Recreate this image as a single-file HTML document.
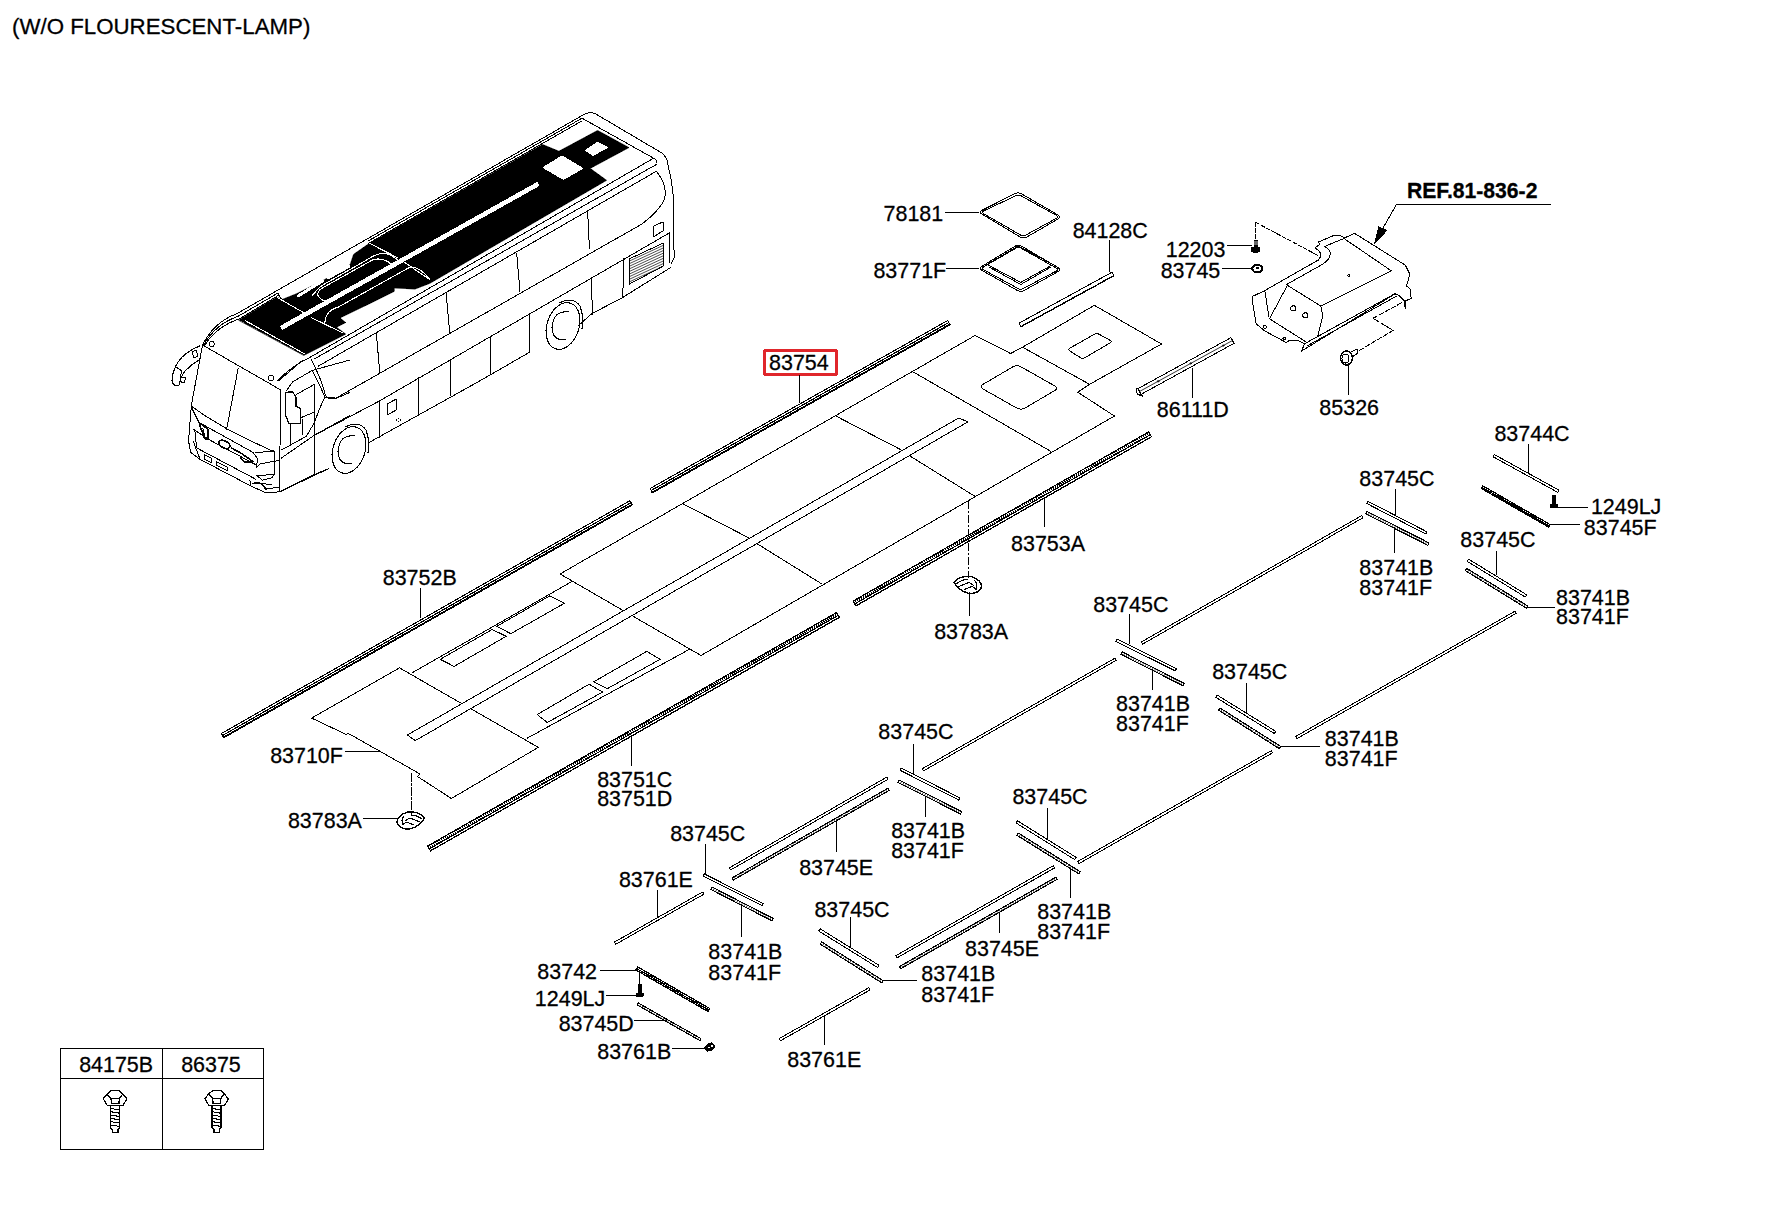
<!DOCTYPE html>
<html><head><meta charset="utf-8"><style>
html,body{margin:0;padding:0;background:#fff;width:1772px;height:1211px;overflow:hidden}
svg{display:block}
svg text{font-family:"Liberation Sans",sans-serif;fill:#000;stroke:#000;stroke-width:0.3px}
</style></head><body>
<svg width="1772" height="1211" viewBox="0 0 1772 1211" stroke="#000" fill="none" stroke-linecap="round" stroke-linejoin="round" shape-rendering="crispEdges">
<rect x="0" y="0" width="1772" height="1211" fill="#fff" stroke="none"/>
<text transform="translate(12.03,33.90) scale(0.970,1)" font-size="22.98">(W/O FLOURESCENT-LAMP)</text>
<text transform="translate(883.54,221.40) scale(0.960,1)" font-size="22.36">78181</text>
<text transform="translate(873.44,278.10) scale(0.960,1)" font-size="22.36">83771F</text>
<text transform="translate(1072.64,238.30) scale(0.960,1)" font-size="22.36">84128C</text>
<text transform="translate(1165.74,256.90) scale(0.960,1)" font-size="22.36">12203</text>
<text transform="translate(1160.64,277.70) scale(0.960,1)" font-size="22.36">83745</text>
<text transform="translate(769.04,370.10) scale(0.960,1)" font-size="22.36">83754</text>
<text transform="translate(1156.84,417.40) scale(0.960,1)" font-size="22.36">86111D</text>
<text transform="translate(1319.34,414.90) scale(0.960,1)" font-size="22.36">85326</text>
<text transform="translate(1494.44,441.00) scale(0.960,1)" font-size="22.36">83744C</text>
<text transform="translate(1590.94,513.50) scale(0.960,1)" font-size="22.36">1249LJ</text>
<text transform="translate(1583.84,534.80) scale(0.960,1)" font-size="22.36">83745F</text>
<text transform="translate(1359.34,486.10) scale(0.960,1)" font-size="22.36">83745C</text>
<text transform="translate(1359.34,574.50) scale(0.960,1)" font-size="22.36">83741B</text>
<text transform="translate(1359.34,594.80) scale(0.960,1)" font-size="22.36">83741F</text>
<text transform="translate(1460.34,547.40) scale(0.960,1)" font-size="22.36">83745C</text>
<text transform="translate(1556.04,604.90) scale(0.960,1)" font-size="22.36">83741B</text>
<text transform="translate(1556.04,624.20) scale(0.960,1)" font-size="22.36">83741F</text>
<text transform="translate(1011.04,550.60) scale(0.960,1)" font-size="22.36">83753A</text>
<text transform="translate(934.14,638.80) scale(0.960,1)" font-size="22.36">83783A</text>
<text transform="translate(382.74,584.60) scale(0.960,1)" font-size="22.36">83752B</text>
<text transform="translate(1093.24,612.40) scale(0.960,1)" font-size="22.36">83745C</text>
<text transform="translate(1116.04,710.90) scale(0.960,1)" font-size="22.36">83741B</text>
<text transform="translate(1116.04,731.20) scale(0.960,1)" font-size="22.36">83741F</text>
<text transform="translate(1212.14,679.40) scale(0.960,1)" font-size="22.36">83745C</text>
<text transform="translate(1324.84,745.50) scale(0.960,1)" font-size="22.36">83741B</text>
<text transform="translate(1324.84,765.80) scale(0.960,1)" font-size="22.36">83741F</text>
<text transform="translate(270.14,763.00) scale(0.960,1)" font-size="22.36">83710F</text>
<text transform="translate(597.14,786.60) scale(0.960,1)" font-size="22.36">83751C</text>
<text transform="translate(597.14,805.80) scale(0.960,1)" font-size="22.36">83751D</text>
<text transform="translate(287.94,828.20) scale(0.960,1)" font-size="22.36">83783A</text>
<text transform="translate(878.34,738.50) scale(0.960,1)" font-size="22.36">83745C</text>
<text transform="translate(891.14,838.00) scale(0.960,1)" font-size="22.36">83741B</text>
<text transform="translate(891.14,858.40) scale(0.960,1)" font-size="22.36">83741F</text>
<text transform="translate(1012.44,804.10) scale(0.960,1)" font-size="22.36">83745C</text>
<text transform="translate(1037.24,919.10) scale(0.960,1)" font-size="22.36">83741B</text>
<text transform="translate(1037.24,938.80) scale(0.960,1)" font-size="22.36">83741F</text>
<text transform="translate(799.14,874.90) scale(0.960,1)" font-size="22.36">83745E</text>
<text transform="translate(670.14,841.00) scale(0.960,1)" font-size="22.36">83745C</text>
<text transform="translate(618.94,886.50) scale(0.960,1)" font-size="22.36">83761E</text>
<text transform="translate(708.34,959.20) scale(0.960,1)" font-size="22.36">83741B</text>
<text transform="translate(708.34,979.50) scale(0.960,1)" font-size="22.36">83741F</text>
<text transform="translate(814.44,916.50) scale(0.960,1)" font-size="22.36">83745C</text>
<text transform="translate(965.04,955.70) scale(0.960,1)" font-size="22.36">83745E</text>
<text transform="translate(921.34,981.40) scale(0.960,1)" font-size="22.36">83741B</text>
<text transform="translate(921.34,1001.80) scale(0.960,1)" font-size="22.36">83741F</text>
<text transform="translate(537.34,978.50) scale(0.960,1)" font-size="22.36">83742</text>
<text transform="translate(534.84,1005.90) scale(0.960,1)" font-size="22.36">1249LJ</text>
<text transform="translate(558.64,1031.30) scale(0.960,1)" font-size="22.36">83745D</text>
<text transform="translate(597.24,1058.70) scale(0.960,1)" font-size="22.36">83761B</text>
<text transform="translate(787.24,1066.90) scale(0.960,1)" font-size="22.36">83761E</text>
<text transform="translate(79.14,1071.70) scale(0.960,1)" font-size="22.36">84175B</text>
<text transform="translate(181.14,1071.70) scale(0.960,1)" font-size="22.36">86375</text>
<text transform="translate(1406.96,197.90) scale(0.940,1)" font-size="22.50" font-weight="bold">REF.81-836-2</text>
<polygon points="239.1,320.1 276.7,297.3 282.6,299.4 297.0,293.6 322.5,280.9 350.2,264.7 353.7,254.3 368.7,243.9 542.6,144.6 558.9,151.3 597.6,130.5 628.8,147.6 590.1,168.4 606.5,180.3 430.0,283.2 415.0,289.0 394.2,287.9 394.2,291.3 368.7,304.0 339.8,317.9 345.6,322.5 336.4,327.2 345.6,334.1 304.1,355.2" fill="#000" stroke-width="0.8"/>
<g stroke="#fff">
<line x1="281" y1="328" x2="538.5" y2="183.8" stroke-width="4.6" stroke-linecap="butt"/>
<polygon points="544.0,167.6 561.9,156.5 582.0,168.4 563.4,178.8" fill="#fff" stroke-width="2"/>
<polygon points="585.7,150.5 597.6,142.4 607.2,147.6 593.1,155.0" fill="#fff" stroke-width="1.5"/>
<line x1="245.2" y1="320.6" x2="304.1" y2="353.6" stroke-width="1.1"/>
<line x1="277.7" y1="297.8" x2="305.1" y2="313.5" stroke-width="1.1"/>
<line x1="311.2" y1="317.6" x2="342.7" y2="332.8" stroke-width="1.1"/>
<line x1="368.7" y1="242.8" x2="397.6" y2="257.8" stroke-width="1.1"/>
<line x1="404.6" y1="262.4" x2="430.0" y2="279.8" stroke-width="1.1"/>
<line x1="298.2" y1="296.0" x2="322.5" y2="280.9" stroke-width="3"/>
<path d="M322.5,287.9L372.2,260.1Q380.3,257 389.5,262.4Q392,266 389.5,267L330.6,301.7Q322.5,302 318,296Q317,291 322.5,287.9Z" fill="none" stroke="#fff" stroke-width="1.1"/>
<path d="M312,296Q320,285 330,281L370,258Q382,250 392,256Q400,262 404,262" fill="none" stroke="#fff" stroke-width="1.1"/>
<path d="M324.8,322.5Q326,310 337.5,307.5L408,268.2Q418,264 430,279.8" fill="none" stroke="#fff" stroke-width="1.1"/>
<polygon points="326.0,275.0 348.0,263.0 350.0,267.0 328.0,279.0" fill="#fff" stroke-width="1"/>
</g>
<path d="M202.5,345Q214,322 237,313.6L582,115.6" fill="none" stroke="#000" stroke-width="1"/>
<path d="M203.5,345.3Q215.3,324.1 238.3,316.2L278.0,293.0" fill="none" stroke="#000" stroke-width="1"/>
<path d="M368.0,241.1L582,118.2" fill="none" stroke="#000" stroke-width="1"/>
<path d="M204.6,345.5Q216.6,326.2 239.6,318.8L278.0,295.6" fill="none" stroke="#000" stroke-width="1"/>
<path d="M368.0,243.7L582,120.8" fill="none" stroke="#000" stroke-width="1"/>
<path d="M278,293Q280,299 283,299.5" fill="none" stroke="#000" stroke-width="1"/>
<path d="M582,115.6Q588,111 595,113.5L661.5,152.8Q667,157 667.4,162.4" fill="none" stroke="#000" stroke-width="1"/>
<path d="M582,118.2L653.3,158Q657,160 656.3,162.4" fill="none" stroke="#000" stroke-width="1"/>
<path d="M667.4,162.4Q672,180 673.4,196.6L674.1,257.6L671.1,263.5" fill="none" stroke="#000" stroke-width="1"/>
<path d="M669,232L670,263" fill="none" stroke="#000" stroke-width="1"/>
<path d="M277.7,380.6Q293,365 310.2,357.2L654,158" fill="none" stroke="#000" stroke-width="1"/>
<line x1="314.0" y1="359.2" x2="656.3" y2="164.5" stroke-width="1"/>
<line x1="318.2" y1="366.2" x2="656.3" y2="171.3" stroke-width="1"/>
<path d="M656.3,171.3Q668,186 664.4,199.3Q660,210 642,224" fill="none" stroke="#000" stroke-width="1"/>
<path d="M310.9,359Q322,380 325.4,395.3Q330,401 336.3,398L642,224" fill="none" stroke="#000" stroke-width="1"/>
<line x1="314.5" y1="435.3" x2="379.9" y2="400.7" stroke-width="1"/>
<line x1="379.9" y1="400.7" x2="669.6" y2="232.8" stroke-width="1"/>
<path d="M279.8,491.8L328.4,468.7" fill="none" stroke="#000" stroke-width="1"/>
<path d="M369,442.5L480,380.8L530,352M578,326L591.6,313.8L622.8,297.4L670.4,267.7" fill="none" stroke="#000" stroke-width="1"/>
<line x1="376.3" y1="333.5" x2="379.9" y2="373.5" stroke-width="1"/>
<line x1="446.2" y1="293.6" x2="449.8" y2="333.5" stroke-width="1"/>
<line x1="516.7" y1="253.6" x2="520.0" y2="291.6" stroke-width="1"/>
<line x1="587.7" y1="212.3" x2="589.4" y2="248.6" stroke-width="1"/>
<line x1="379.5" y1="400.7" x2="379.5" y2="437.1" stroke-width="1"/>
<line x1="418.5" y1="377.1" x2="418.5" y2="415.3" stroke-width="1"/>
<line x1="450.5" y1="359.0" x2="450.5" y2="395.3" stroke-width="1"/>
<line x1="490.5" y1="337.8" x2="490.5" y2="374.1" stroke-width="1"/>
<line x1="529.5" y1="314.7" x2="529.5" y2="352.7" stroke-width="1"/>
<line x1="591.0" y1="278.3" x2="592.7" y2="314.7" stroke-width="1"/>
<line x1="623.6" y1="258.8" x2="622.8" y2="297.4" stroke-width="1"/>
<polygon points="387.2,404.0 396.3,399.0 396.3,410.0 387.2,415.0" fill="none" stroke-width="1"/>
<ellipse cx="398.5" cy="420" rx="2" ry="1.2"/>
<ellipse cx="349" cy="450" rx="16" ry="24" transform="rotate(18 349 450)" stroke-width="1.1"/>
<path d="M355,436Q339,434 338,452Q339,466 352,463" stroke-width="1.1"/>
<path d="M345,427Q359,420 366,430Q370,440 368,453" stroke-width="1.1"/>
<ellipse cx="563" cy="326" rx="16" ry="24" transform="rotate(18 563 326)" stroke-width="1.1"/>
<path d="M569,312Q553,310 552,328Q553,342 566,339" stroke-width="1.1"/>
<path d="M559,303Q573,296 580,306Q584,316 582,329" stroke-width="1.1"/>
<polygon points="629.5,258.8 663.0,243.2 663.0,266.2 629.5,284.0" fill="none" stroke-width="1"/>
<path d="M629.5,261.0L663,245.5M629.5,263.6L663,248.1M629.5,266.2L663,250.7M629.5,268.8L663,253.3M629.5,271.4L663,255.9M629.5,274.0L663,258.5M629.5,276.6L663,261.1M629.5,279.2L663,263.7M629.5,281.8L663,266.3" fill="none" stroke="#000" stroke-width="0.7"/>
<polygon points="653.3,226.3 663.0,221.9 663.0,230.8 654.0,236.7" fill="none" stroke-width="1"/>
<line x1="202.5" y1="345.0" x2="281.0" y2="390.1" stroke-width="1"/>
<line x1="202.5" y1="345.0" x2="191.4" y2="405.1" stroke-width="1"/>
<polyline points="191.4,406.2 204.7,415.5 227.8,429.4 250.9,440.9 270.6,450.2 274.0,450.4" fill="none" stroke-width="1"/>
<line x1="281.0" y1="390.1" x2="279.2" y2="491.8" stroke-width="1"/>
<line x1="238.2" y1="368.1" x2="226.6" y2="429.4" stroke-width="1"/>
<polyline points="191.4,405.1 188.5,440.9 190.8,452.5 200.1,459.4 250.9,486.0 266.0,492.9 279.8,491.8" fill="none" stroke-width="1"/>
<polyline points="191.4,407.4 198.9,422.4 253.2,452.5" fill="none" stroke-width="1"/>
<polyline points="193.7,429.4 209.3,439.8 241.7,457.1 255.5,464.6" fill="none" stroke-width="1"/>
<polyline points="194.9,430.5 196.6,447.9 255.5,479.1" fill="none" stroke-width="1"/>
<polyline points="193.1,440.9 200.1,459.4" fill="none" stroke-width="1"/>
<polygon points="199.5,423.0 208.2,429.4 208.2,439.8 204.7,438.6 199.5,424.7" fill="none" stroke-width="1.6"/>
<polyline points="202.9,428.2 204.7,436.3" fill="none" stroke-width="1"/>
<ellipse cx="224.3" cy="444.4" rx="6" ry="3.4" transform="rotate(28 224.3 444.4)" stroke-width="1.8"/>
<polyline points="231.3,447.9 241.7,453.6 253.2,461.7 245.1,462.3 240.5,458.3" fill="none" stroke-width="1.6"/>
<polyline points="255.5,452.5 274.0,451.3 274.0,474.5 256.7,475.6" fill="none" stroke-width="1"/>
<polyline points="253.2,452.5 257.9,459.4 256.1,467.5 260.2,464.0 271.7,461.7 278.7,460.6" fill="none" stroke-width="1"/>
<polyline points="256.7,475.6 262.5,480.2 271.7,477.9 274.0,474.5" fill="none" stroke-width="1"/>
<polygon points="204.7,454.8 211.6,458.3 211.6,462.9 204.7,459.4" fill="none" stroke-width="1"/>
<polygon points="216.2,461.7 227.8,467.5 227.8,471.0 216.2,465.2" fill="none" stroke-width="1"/>
<polyline points="249.8,480.2 250.9,486.0 266.0,492.9" fill="none" stroke-width="1"/>
<path d="M253.2,483.7Q261.3,480.2 266.0,489.5" fill="none" stroke="#000" stroke-width="1.6"/>
<polyline points="260.2,483.7 271.7,484.3" fill="none" stroke-width="1"/>
<polyline points="266.0,488.3 279.8,487.7" fill="none" stroke-width="1"/>
<polyline points="278.7,380.8 302.9,360.0" fill="none" stroke-width="1"/>
<polyline points="286.8,390.1 292.5,382.0 312.2,370.4 350.0,360.0" fill="none" stroke-width="1"/>
<polyline points="312.2,370.4 320.3,386.6 324.9,397.0 336.5,398.2 350.0,392.4" fill="none" stroke-width="1"/>
<polyline points="296.0,394.7 314.5,384.3" fill="none" stroke-width="1"/>
<polyline points="300.6,417.8 314.5,412.0" fill="none" stroke-width="1"/>
<polyline points="314.5,422.4 306.4,436.3 281.0,450.2" fill="none" stroke-width="1"/>
<polyline points="281.0,458.3 314.5,435.1 350.0,415.5" fill="none" stroke-width="1"/>
<polyline points="314.5,385.4 314.5,474.5" fill="none" stroke-width="1"/>
<polyline points="302.9,419.0 302.9,435.1" fill="none" stroke-width="1"/>
<polyline points="290.2,424.7 290.2,444.4" fill="none" stroke-width="1"/>
<polyline points="314.5,422.4 319.1,409.7 324.9,397.0" fill="none" stroke-width="1"/>
<polyline points="279.8,491.8 314.5,474.5 328.4,468.7" fill="none" stroke-width="1"/>
<polygon points="285.6,392.4 292.5,391.8 296.0,397.0 296.0,406.2 300.6,408.6 300.6,423.6 289.1,423.6 285.6,415.5" fill="none" stroke-width="1.3"/>
<polyline points="285.6,392.4 285.6,401.6" fill="none" stroke-width="1.6"/>
<path d="M199.5,346Q185,352 178,362Q172,372 172,381Q174,388 179,385Q181,375 186,370Q192,364 199,360" fill="none" stroke="#000" stroke-width="1.1"/>
<path d="M176,367L182,371L180,377L186,377L184,383L179,381" fill="none" stroke="#000" stroke-width="1"/>
<path d="M196,350L198,356L194,358L192,352Z" fill="none" stroke="#000" stroke-width="1.2"/>
<circle cx="211.6" cy="344" r="2.6"/>
<circle cx="271.1" cy="378" r="2.6"/>
<path d="M981.9,214.1Q978.5,212.0 982.1,210.2L1014.7,193.8Q1018.3,192.0 1021.8,194.0L1058.0,215.0Q1061.5,217.0 1058.0,219.0L1026.9,237.0Q1023.4,239.0 1020.0,236.9Z" fill="none" stroke="#000" stroke-width="1"/>
<path d="M983.6,213.7Q981.0,212.2 983.7,210.9L1015.8,195.8Q1018.5,194.5 1021.2,195.9L1056.4,215.4Q1059.0,216.9 1056.4,218.3L1025.7,235.1Q1023.1,236.5 1020.5,235.0Z" fill="none" stroke="#000" stroke-width="1"/>
<line x1="945.5" y1="212.5" x2="978.5" y2="212.5" stroke-width="1"/>
<path d="M982.0,270.4Q978.5,268.4 981.9,266.3L1014.9,246.3Q1018.3,244.2 1021.7,246.2L1058.1,267.6Q1061.5,269.6 1058.0,271.6L1024.3,290.4Q1020.8,292.4 1017.3,290.4Z" fill="none" stroke="#000" stroke-width="1"/>
<path d="M983.6,269.8Q981.0,268.4 983.6,266.9L1015.9,248.2Q1018.5,246.7 1021.1,248.2L1056.4,268.1Q1059.0,269.5 1056.4,271.0L1023.3,288.5Q1020.7,289.9 1018.1,288.5Z" fill="none" stroke="#000" stroke-width="1"/>
<polyline points="987.0,264.5 1020.8,282.4 1053.0,264.5" fill="none" stroke-width="1"/>
<polyline points="989.0,267.0 1020.8,284.5 1051.0,267.0" fill="none" stroke-width="1"/>
<polyline points="987.0,264.5 1018.3,246.0 1053.0,264.5" fill="none" stroke-width="1"/>
<line x1="946.3" y1="268.5" x2="978.5" y2="268.5" stroke-width="1"/>
<polygon points="1021.0,326.8 1114.0,275.8 1112.0,272.2 1019.0,323.2" fill="none" stroke-width="1"/>
<line x1="1022" y1="326" x2="1113" y2="276" stroke-width="1.3" stroke-dasharray="1.2,1"/>
<line x1="1109.5" y1="240.8" x2="1109.5" y2="271.3" stroke-width="1"/>
<polygon points="1141.1,394.3 1234.1,343.3 1230.9,337.7 1137.9,388.7" fill="none" stroke-width="1"/>
<line x1="1139.5" y1="391.5" x2="1232.5" y2="340.5" stroke-width="0.8"/>
<path d="M1137,388.5Q1135,393 1140,395.5M1139,394.5L1142.5,396" fill="none" stroke="#000" stroke-width="1.2"/>
<circle cx="1158.1" cy="381.3" r="0.8" stroke-width="0.8"/>
<circle cx="1190.7" cy="363.4" r="0.8" stroke-width="0.8"/>
<circle cx="1223.2" cy="345.6" r="0.8" stroke-width="0.8"/>
<line x1="1192.5" y1="368.2" x2="1192.5" y2="397.4" stroke-width="1"/>
<polygon points="1252.7,296.3 1252.7,303.2 1256.2,324.0 1264.9,331.0 1286.2,342.5 1289.7,340.2 1297.8,340.2 1304.7,343.7 1301.3,351.2 1394.9,294.0 1398.4,295.1 1404.2,300.9 1405.3,309.0 1406.0,307.0 1405.0,301.0 1411.1,298.6 1410.5,289.4 1406.5,285.9 1409.9,274.3 1405.3,265.1 1354.5,233.3 1344.6,237.9 1341.7,236.2 1334.8,235.0 1318.6,242.0 1319.8,244.3 1315.1,247.7 1319.8,251.8 1320.9,255.8 1318.6,259.9 1264.9,290.5" fill="none" stroke-width="1"/>
<path d="M1342.3,239.1L1324.4,246.6Q1331,250 1330.2,254.7Q1329,260 1323.2,263.9L1286.2,284.7" fill="none" stroke="#000" stroke-width="1"/>
<line x1="1344.0" y1="238.5" x2="1391.4" y2="270.9" stroke-width="1"/>
<polyline points="1269.5,318.8 1287.4,285.3 1320.9,306.1 1390.3,271.4" fill="none" stroke-width="1"/>
<polyline points="1320.9,306.1 1322.7,316.0 1317.5,336.8" fill="none" stroke-width="1"/>
<polyline points="1269.5,318.8 1307.0,342.5" fill="none" stroke-width="1"/>
<polyline points="1264.9,291.1 1268.9,317.1" fill="none" stroke-width="1"/>
<line x1="1304.7" y1="343.7" x2="1395.5" y2="293.4" stroke-width="1"/>
<line x1="1307.0" y1="346.0" x2="1396.1" y2="296.3" stroke-width="1"/>
<circle cx="1293.2" cy="308.4" r="2.6" stroke-width="1"/>
<circle cx="1305.3" cy="315.4" r="2.6" stroke-width="1"/>
<circle cx="1264.9" cy="326.9" r="1.5" stroke-width="1"/>
<circle cx="1284.5" cy="338.5" r="1.5" stroke-width="1"/>
<circle cx="1348.7" cy="275.5" r="1" stroke-width="1"/>
<path d="M1255.6,222.3L1255.6,240M1255.6,222.3L1318.6,255.8" stroke-width="1" stroke-dasharray="4,2"/>
<path d="M1359.1,350.6L1393.2,330.4L1373,318.3L1401.8,302.7" stroke-width="1" stroke-dasharray="5,2"/>
<line x1="1396.5" y1="204.5" x2="1550.9" y2="204.5" stroke-width="1"/>
<line x1="1396.5" y1="204.4" x2="1379.0" y2="235.0" stroke-width="1"/>
<path d="M1374.7,243.1L1378.7,226.9L1386.8,230.4Z" fill="#000" stroke="#000" stroke-width="1"/>
<line x1="1227.6" y1="245.5" x2="1251.7" y2="245.5" stroke-width="1"/>
<path d="M1254,240L1257,240L1257,247L1259.5,247.5L1259.5,251L1257,252.5L1254,252.5L1251.5,251L1251.5,247.5L1254,247Z" fill="#000" stroke="#000" stroke-width="1"/>
<path d="M1253,244L1258,244M1253,242L1258,242" fill="none" stroke="#fff" stroke-width="0.8"/>
<line x1="1222.5" y1="268.5" x2="1251.7" y2="268.5" stroke-width="1"/>
<ellipse cx="1257.3" cy="268.6" rx="5" ry="3.6" stroke-width="2.2"/>
<ellipse cx="1257.5" cy="268" rx="1.5" ry="1" stroke-width="1" fill="#fff"/>
<ellipse cx="1346.5" cy="358" rx="6" ry="7" stroke-width="1.5"/>
<ellipse cx="1345.5" cy="358.5" rx="3.5" ry="4.5" stroke-width="1"/>
<path d="M1351,352L1357,349M1352,357L1358,353M1357,349L1358,353" fill="none" stroke="#000" stroke-width="1"/>
<line x1="1348.5" y1="363.2" x2="1348.5" y2="394.9" stroke-width="1"/>
<polygon points="311.7,718.1 399.5,667.9 538.3,747.4 451.4,798.5 417.5,776.5 420.1,774.0 349.0,733.8 345.6,734.2" fill="none" stroke-width="1"/>
<polyline points="411.9,672.9 572.2,581.4" fill="none" stroke-width="1"/>
<polyline points="527.0,738.3 690.0,649.0" fill="none" stroke-width="1"/>
<polyline points="560.0,574.0 975.0,335.5 1010.6,353.5 1022.5,347.2" fill="none" stroke-width="1"/>
<polyline points="1022.5,347.2 1094.4,305.3 1161.5,344.0 1089.6,384.3 1022.5,347.2" fill="none" stroke-width="1"/>
<polyline points="1089.6,384.3 1077.8,392.2 1114.4,416.0 701.0,655.5 560.0,574.0" fill="none" stroke-width="1"/>
<line x1="683.0" y1="503.8" x2="748.5" y2="537.7" stroke-width="1"/>
<line x1="756.4" y1="543.3" x2="821.9" y2="584.0" stroke-width="1"/>
<line x1="835.4" y1="415.8" x2="900.9" y2="449.7" stroke-width="1"/>
<line x1="908.8" y1="455.3" x2="974.7" y2="496.2" stroke-width="1"/>
<line x1="912.6" y1="371.6" x2="1050.9" y2="451.4" stroke-width="1"/>
<path d="M983.4,389.2Q979.0,386.7 983.3,384.2L1012.6,367.0Q1016.9,364.5 1021.3,367.0L1054.4,385.7Q1058.8,388.2 1054.5,390.7L1025.2,407.9Q1020.9,410.4 1016.5,407.9Z" fill="none" stroke="#000" stroke-width="1"/>
<path d="M1070.0,351.1Q1067.5,349.5 1070.1,348.0L1094.1,334.4Q1096.7,332.9 1099.3,334.3L1109.9,340.2Q1112.5,341.6 1109.9,343.1L1085.1,357.5Q1082.5,359.0 1080.0,357.4Z" fill="none" stroke="#000" stroke-width="1"/>
<polygon points="440.2,659.3 492.2,629.5 506.2,636.3 454.1,666.4" fill="none" stroke-width="1"/>
<polygon points="496.9,626.3 549.8,595.8 564.6,603.2 510.8,633.7" fill="none" stroke-width="1"/>
<polygon points="537.2,714.6 589.1,684.2 602.6,692.1 547.3,722.5" fill="none" stroke-width="1"/>
<polygon points="593.6,681.9 646.7,651.4 660.2,659.3 607.2,688.7" fill="none" stroke-width="1"/>
<polyline points="958.9,417.9 407.4,735.0 415.3,740.6 967.8,421.9 958.9,417.9" fill="#fff" stroke-width="1"/>
<line x1="650.1" y1="488.5" x2="947.7" y2="320.5" stroke-width="1.1"/>
<line x1="651.2" y1="490.5" x2="948.8" y2="322.5" stroke-width="1.2"/>
<line x1="652.3" y1="492.5" x2="949.9" y2="324.5" stroke-width="1.8"/>
<line x1="652.3" y1="492.5" x2="650.1" y2="488.5" stroke-width="1"/>
<line x1="949.9" y1="324.5" x2="947.7" y2="320.5" stroke-width="1"/>
<line x1="221.4" y1="733.5" x2="629.9" y2="500.7" stroke-width="1.1"/>
<line x1="222.5" y1="735.5" x2="631.0" y2="502.7" stroke-width="1.2"/>
<line x1="223.6" y1="737.5" x2="632.1" y2="504.7" stroke-width="1.8"/>
<line x1="223.6" y1="737.5" x2="221.4" y2="733.5" stroke-width="1"/>
<line x1="632.1" y1="504.7" x2="629.9" y2="500.7" stroke-width="1"/>
<polygon points="853.1,601.1 1148.7,431.9 1150.3,434.7 854.7,603.9" fill="none" stroke-width="1.2"/>
<path d="M855.0,600.0L856.6,602.8M856.9,598.9L858.5,601.7M858.9,597.8L860.5,600.6M860.8,596.7L862.4,599.5M862.7,595.6L864.3,598.4M864.6,594.5L866.2,597.3M866.5,593.4L868.1,596.2M868.5,592.3L870.1,595.1M870.4,591.2L872.0,594.0M872.3,590.1L873.9,592.9M874.2,589.0L875.8,591.8M876.1,587.9L877.7,590.7M878.1,586.8L879.7,589.6M880.0,585.7L881.6,588.5M881.9,584.6L883.5,587.4M883.8,583.5L885.4,586.3M885.7,582.4L887.3,585.2M887.7,581.3L889.3,584.1M889.6,580.2L891.2,583.0M891.5,579.1L893.1,581.9M893.4,578.0L895.0,580.8M895.3,576.9L896.9,579.7M897.3,575.8L898.9,578.6M899.2,574.7L900.8,577.5M901.1,573.6L902.7,576.4M903.0,572.5L904.6,575.3M904.9,571.4L906.5,574.2M906.9,570.3L908.5,573.1M908.8,569.2L910.4,572.0M910.7,568.1L912.3,570.9M912.6,567.0L914.2,569.8M914.5,565.9L916.1,568.7M916.5,564.8L918.1,567.6M918.4,563.7L920.0,566.5M920.3,562.6L921.9,565.4M922.2,561.5L923.8,564.3M924.1,560.4L925.7,563.2M926.0,559.3L927.6,562.1M928.0,558.2L929.6,561.0M929.9,557.1L931.5,559.9M931.8,556.0L933.4,558.8M933.7,554.9L935.3,557.7M935.6,553.8L937.2,556.6M937.6,552.7L939.2,555.5M939.5,551.6L941.1,554.4M941.4,550.5L943.0,553.3M943.3,549.4L944.9,552.2M945.2,548.3L946.8,551.1M947.2,547.2L948.8,550.0M949.1,546.1L950.7,548.9M951.0,545.0L952.6,547.8M952.9,543.9L954.5,546.7M954.8,542.8L956.4,545.6M956.8,541.7L958.4,544.5M958.7,540.6L960.3,543.4M960.6,539.5L962.2,542.3M962.5,538.4L964.1,541.2M964.4,537.3L966.0,540.1M966.4,536.2L968.0,539.0M968.3,535.1L969.9,537.9M970.2,534.0L971.8,536.8M972.1,533.0L973.7,535.7M974.0,531.9L975.6,534.6M976.0,530.8L977.6,533.5M977.9,529.7L979.5,532.4M979.8,528.6L981.4,531.4M981.7,527.5L983.3,530.3M983.6,526.4L985.2,529.2M985.6,525.3L987.2,528.1M987.5,524.2L989.1,527.0M989.4,523.1L991.0,525.9M991.3,522.0L992.9,524.8M993.2,520.9L994.8,523.7M995.2,519.8L996.8,522.6M997.1,518.7L998.7,521.5M999.0,517.6L1000.6,520.4M1000.9,516.5L1002.5,519.3M1002.8,515.4L1004.4,518.2M1004.7,514.3L1006.3,517.1M1006.7,513.2L1008.3,516.0M1008.6,512.1L1010.2,514.9M1010.5,511.0L1012.1,513.8M1012.4,509.9L1014.0,512.7M1014.3,508.8L1015.9,511.6M1016.3,507.7L1017.9,510.5M1018.2,506.6L1019.8,509.4M1020.1,505.5L1021.7,508.3M1022.0,504.4L1023.6,507.2M1023.9,503.3L1025.5,506.1M1025.9,502.2L1027.5,505.0M1027.8,501.1L1029.4,503.9M1029.7,500.0L1031.3,502.8M1031.6,498.9L1033.2,501.7M1033.5,497.8L1035.1,500.6M1035.5,496.7L1037.1,499.5M1037.4,495.6L1039.0,498.4M1039.3,494.5L1040.9,497.3M1041.2,493.4L1042.8,496.2M1043.1,492.3L1044.7,495.1M1045.1,491.2L1046.7,494.0M1047.0,490.1L1048.6,492.9M1048.9,489.0L1050.5,491.8M1050.8,487.9L1052.4,490.7M1052.7,486.8L1054.3,489.6M1054.7,485.7L1056.3,488.5M1056.6,484.6L1058.2,487.4M1058.5,483.5L1060.1,486.3M1060.4,482.4L1062.0,485.2M1062.3,481.3L1063.9,484.1M1064.3,480.2L1065.9,483.0M1066.2,479.1L1067.8,481.9M1068.1,478.0L1069.7,480.8M1070.0,476.9L1071.6,479.7M1071.9,475.8L1073.5,478.6M1073.8,474.7L1075.4,477.5M1075.8,473.6L1077.4,476.4M1077.7,472.5L1079.3,475.3M1079.6,471.4L1081.2,474.2M1081.5,470.3L1083.1,473.1M1083.4,469.2L1085.0,472.0M1085.4,468.1L1087.0,470.9M1087.3,467.0L1088.9,469.8M1089.2,465.9L1090.8,468.7M1091.1,464.8L1092.7,467.6M1093.0,463.7L1094.6,466.5M1095.0,462.6L1096.6,465.4M1096.9,461.5L1098.5,464.3M1098.8,460.4L1100.4,463.2M1100.7,459.3L1102.3,462.1M1102.6,458.2L1104.2,461.0M1104.6,457.1L1106.2,459.9M1106.5,456.0L1108.1,458.8M1108.4,454.9L1110.0,457.7M1110.3,453.8L1111.9,456.6M1112.2,452.7L1113.8,455.5M1114.2,451.6L1115.8,454.4M1116.1,450.5L1117.7,453.3M1118.0,449.4L1119.6,452.2M1119.9,448.4L1121.5,451.1M1121.8,447.3L1123.4,450.0M1123.8,446.2L1125.4,448.9M1125.7,445.1L1127.3,447.8M1127.6,444.0L1129.2,446.8M1129.5,442.9L1131.1,445.7M1131.4,441.8L1133.0,444.6M1133.4,440.7L1135.0,443.5M1135.3,439.6L1136.9,442.4M1137.2,438.5L1138.8,441.3M1139.1,437.4L1140.7,440.2M1141.0,436.3L1142.6,439.1M1143.0,435.2L1144.6,438.0M1144.9,434.1L1146.5,436.9M1146.8,433.0L1148.4,435.8" fill="none" stroke="#000" stroke-width="1.0"/>
<line x1="855.9" y1="605.9" x2="1151.5" y2="436.7" stroke-width="1.3"/>
<line x1="854.7" y1="603.9" x2="855.9" y2="605.9" stroke-width="1"/>
<line x1="1150.3" y1="434.7" x2="1151.5" y2="436.7" stroke-width="1"/>
<polygon points="427.6,846.1 836.6,612.5 838.2,615.3 429.2,848.9" fill="none" stroke-width="1.2"/>
<path d="M429.5,845.0L431.1,847.8M431.4,843.9L433.0,846.7M433.3,842.8L434.9,845.6M435.3,841.7L436.9,844.5M437.2,840.6L438.8,843.4M439.1,839.5L440.7,842.3M441.0,838.4L442.6,841.2M442.9,837.3L444.5,840.1M444.8,836.2L446.4,839.0M446.7,835.2L448.3,837.9M448.6,834.1L450.2,836.9M450.5,833.0L452.1,835.8M452.5,831.9L454.1,834.7M454.4,830.8L456.0,833.6M456.3,829.7L457.9,832.5M458.2,828.6L459.8,831.4M460.1,827.5L461.7,830.3M462.0,826.4L463.6,829.2M463.9,825.3L465.5,828.1M465.8,824.2L467.4,827.0M467.7,823.1L469.3,825.9M469.7,822.1L471.3,824.8M471.6,821.0L473.2,823.8M473.5,819.9L475.1,822.7M475.4,818.8L477.0,821.6M477.3,817.7L478.9,820.5M479.2,816.6L480.8,819.4M481.1,815.5L482.7,818.3M483.0,814.4L484.6,817.2M484.9,813.3L486.5,816.1M486.9,812.2L488.5,815.0M488.8,811.1L490.4,813.9M490.7,810.0L492.3,812.8M492.6,809.0L494.2,811.8M494.5,807.9L496.1,810.7M496.4,806.8L498.0,809.6M498.3,805.7L499.9,808.5M500.2,804.6L501.8,807.4M502.1,803.5L503.7,806.3M504.1,802.4L505.7,805.2M506.0,801.3L507.6,804.1M507.9,800.2L509.5,803.0M509.8,799.1L511.4,801.9M511.7,798.0L513.3,800.8M513.6,796.9L515.2,799.7M515.5,795.9L517.1,798.7M517.4,794.8L519.0,797.6M519.3,793.7L520.9,796.5M521.3,792.6L522.9,795.4M523.2,791.5L524.8,794.3M525.1,790.4L526.7,793.2M527.0,789.3L528.6,792.1M528.9,788.2L530.5,791.0M530.8,787.1L532.4,789.9M532.7,786.0L534.3,788.8M534.6,784.9L536.2,787.7M536.6,783.8L538.1,786.6M538.5,782.8L540.1,785.6M540.4,781.7L542.0,784.5M542.3,780.6L543.9,783.4M544.2,779.5L545.8,782.3M546.1,778.4L547.7,781.2M548.0,777.3L549.6,780.1M549.9,776.2L551.5,779.0M551.8,775.1L553.4,777.9M553.8,774.0L555.3,776.8M555.7,772.9L557.3,775.7M557.6,771.8L559.2,774.6M559.5,770.7L561.1,773.5M561.4,769.7L563.0,772.5M563.3,768.6L564.9,771.4M565.2,767.5L566.8,770.3M567.1,766.4L568.7,769.2M569.0,765.3L570.6,768.1M571.0,764.2L572.5,767.0M572.9,763.1L574.5,765.9M574.8,762.0L576.4,764.8M576.7,760.9L578.3,763.7M578.6,759.8L580.2,762.6M580.5,758.7L582.1,761.5M582.4,757.6L584.0,760.4M584.3,756.6L585.9,759.4M586.2,755.5L587.8,758.3M588.2,754.4L589.8,757.2M590.1,753.3L591.7,756.1M592.0,752.2L593.6,755.0M593.9,751.1L595.5,753.9M595.8,750.0L597.4,752.8M597.7,748.9L599.3,751.7M599.6,747.8L601.2,750.6M601.5,746.7L603.1,749.5M603.4,745.6L605.0,748.4M605.4,744.6L607.0,747.3M607.3,743.5L608.9,746.3M609.2,742.4L610.8,745.2M611.1,741.3L612.7,744.1M613.0,740.2L614.6,743.0M614.9,739.1L616.5,741.9M616.8,738.0L618.4,740.8M618.7,736.9L620.3,739.7M620.6,735.8L622.2,738.6M622.6,734.7L624.2,737.5M624.5,733.6L626.1,736.4M626.4,732.5L628.0,735.3M628.3,731.5L629.9,734.2M630.2,730.4L631.8,733.2M632.1,729.3L633.7,732.1M634.0,728.2L635.6,731.0M635.9,727.1L637.5,729.9M637.8,726.0L639.4,728.8M639.8,724.9L641.4,727.7M641.7,723.8L643.3,726.6M643.6,722.7L645.2,725.5M645.5,721.6L647.1,724.4M647.4,720.5L649.0,723.3M649.3,719.4L650.9,722.2M651.2,718.4L652.8,721.1M653.1,717.3L654.7,720.1M655.0,716.2L656.6,719.0M657.0,715.1L658.6,717.9M658.9,714.0L660.5,716.8M660.8,712.9L662.4,715.7M662.7,711.8L664.3,714.6M664.6,710.7L666.2,713.5M666.5,709.6L668.1,712.4M668.4,708.5L670.0,711.3M670.3,707.4L671.9,710.2M672.2,706.3L673.8,709.1M674.2,705.3L675.8,708.0M676.1,704.2L677.7,707.0M678.0,703.1L679.6,705.9M679.9,702.0L681.5,704.8M681.8,700.9L683.4,703.7M683.7,699.8L685.3,702.6M685.6,698.7L687.2,701.5M687.5,697.6L689.1,700.4M689.4,696.5L691.0,699.3M691.4,695.4L693.0,698.2M693.3,694.3L694.9,697.1M695.2,693.2L696.8,696.0M697.1,692.2L698.7,695.0M699.0,691.1L700.6,693.9M700.9,690.0L702.5,692.8M702.8,688.9L704.4,691.7M704.7,687.8L706.3,690.6M706.6,686.7L708.2,689.5M708.6,685.6L710.2,688.4M710.5,684.5L712.1,687.3M712.4,683.4L714.0,686.2M714.3,682.3L715.9,685.1M716.2,681.2L717.8,684.0M718.1,680.1L719.7,682.9M720.0,679.1L721.6,681.9M721.9,678.0L723.5,680.8M723.8,676.9L725.4,679.7M725.8,675.8L727.4,678.6M727.7,674.7L729.3,677.5M729.6,673.6L731.2,676.4M731.5,672.5L733.1,675.3M733.4,671.4L735.0,674.2M735.3,670.3L736.9,673.1M737.2,669.2L738.8,672.0M739.1,668.1L740.7,670.9M741.1,667.0L742.6,669.8M743.0,666.0L744.6,668.8M744.9,664.9L746.5,667.7M746.8,663.8L748.4,666.6M748.7,662.7L750.3,665.5M750.6,661.6L752.2,664.4M752.5,660.5L754.1,663.3M754.4,659.4L756.0,662.2M756.3,658.3L757.9,661.1M758.3,657.2L759.8,660.0M760.2,656.1L761.8,658.9M762.1,655.0L763.7,657.8M764.0,653.9L765.6,656.7M765.9,652.9L767.5,655.7M767.8,651.8L769.4,654.6M769.7,650.7L771.3,653.5M771.6,649.6L773.2,652.4M773.5,648.5L775.1,651.3M775.5,647.4L777.0,650.2M777.4,646.3L779.0,649.1M779.3,645.2L780.9,648.0M781.2,644.1L782.8,646.9M783.1,643.0L784.7,645.8M785.0,641.9L786.6,644.7M786.9,640.8L788.5,643.6M788.8,639.8L790.4,642.6M790.7,638.7L792.3,641.5M792.7,637.6L794.3,640.4M794.6,636.5L796.2,639.3M796.5,635.4L798.1,638.2M798.4,634.3L800.0,637.1M800.3,633.2L801.9,636.0M802.2,632.1L803.8,634.9M804.1,631.0L805.7,633.8M806.0,629.9L807.6,632.7M807.9,628.8L809.5,631.6M809.9,627.8L811.5,630.5M811.8,626.7L813.4,629.5M813.7,625.6L815.3,628.4M815.6,624.5L817.2,627.3M817.5,623.4L819.1,626.2M819.4,622.3L821.0,625.1M821.3,621.2L822.9,624.0M823.2,620.1L824.8,622.9M825.1,619.0L826.7,621.8M827.1,617.9L828.7,620.7M829.0,616.8L830.6,619.6M830.9,615.7L832.5,618.5M832.8,614.7L834.4,617.4M834.7,613.6L836.3,616.4" fill="none" stroke="#000" stroke-width="1.0"/>
<line x1="430.4" y1="850.9" x2="839.4" y2="617.3" stroke-width="1.3"/>
<line x1="429.2" y1="848.9" x2="430.4" y2="850.9" stroke-width="1"/>
<line x1="838.2" y1="615.3" x2="839.4" y2="617.3" stroke-width="1"/>
<rect x="764.5" y="350.5" width="72" height="24" stroke="#e0262b" stroke-width="2.2" fill="none"/>
<line x1="799.5" y1="375.3" x2="799.5" y2="402.8" stroke-width="1"/>
<line x1="420.5" y1="588.2" x2="420.5" y2="617.6" stroke-width="1"/>
<line x1="1044.5" y1="497.2" x2="1044.5" y2="526.9" stroke-width="1"/>
<line x1="631.5" y1="737.2" x2="631.5" y2="765.4" stroke-width="1"/>
<line x1="345.3" y1="751.5" x2="380.3" y2="751.5" stroke-width="1"/>
<g transform="translate(821.6,0) scale(-1,1)">
<path d="M396.8,818Q400.8,813 408.8,812L413.8,812Q423.8,815 424.8,822Q422.8,828 415.8,829L411.8,829Q406.8,828 401.8,824Z" fill="none" stroke="#000" stroke-width="1.4"/>
<path d="M399.8,819Q404.8,815 410.8,815M401.8,822L411.8,818L416.8,821M407.8,825L414.8,822L419.8,825M417.8,816Q420.8,820 418.8,825" fill="none" stroke="#000" stroke-width="1.1"/>
</g>
<path d="M953.8,582.4Q957.8,577.4 965.8,576.4L970.8,576.4Q980.8,579.4 981.8,586.4Q979.8,592.4 972.8,593.4L968.8,593.4Q963.8,592.4 958.8,588.4Z" fill="none" stroke="#000" stroke-width="1.4"/>
<path d="M956.8,583.4Q961.8,579.4 967.8,579.4M958.8,586.4L968.8,582.4L973.8,585.4M964.8,589.4L971.8,586.4L976.8,589.4M974.8,580.4Q977.8,584.4 975.8,589.4" fill="none" stroke="#000" stroke-width="1.1"/>
<line x1="363.4" y1="818.5" x2="397.2" y2="818.5" stroke-width="1"/>
<path d="M411.6,773.1L411.6,813.7" stroke-width="1" stroke-dasharray="8,2,2,2"/>
<line x1="969.5" y1="592.3" x2="969.5" y2="615.1" stroke-width="1"/>
<path d="M968.8,501.1L968.8,578" stroke-width="1" stroke-dasharray="8,2,2,2"/>
<polygon points="1493.2,456.8 1557.8,492.4 1559.0,490.2 1494.4,454.6" fill="none" stroke-width="1"/>
<line x1="1528.5" y1="444.5" x2="1528.5" y2="474.0" stroke-width="1"/>
<polygon points="1482.9,485.9 1550.0,524.5 1549.2,526.0 1482.1,487.4" fill="none" stroke-width="1.2"/>
<path d="M1484.9,487.0L1484.0,488.5M1486.8,488.1L1485.9,489.6M1488.7,489.2L1487.8,490.7M1490.6,490.3L1489.8,491.8M1492.5,491.4L1491.7,492.9M1494.5,492.5L1493.6,494.0M1496.4,493.6L1495.5,495.1M1498.3,494.7L1497.4,496.2M1500.2,495.8L1499.3,497.3M1502.1,496.9L1501.3,498.4M1504.0,498.0L1503.2,499.5M1506.0,499.1L1505.1,500.6M1507.9,500.2L1507.0,501.7M1509.8,501.3L1508.9,502.8M1511.7,502.4L1510.8,503.9M1513.6,503.5L1512.8,505.0M1515.5,504.6L1514.7,506.1M1517.5,505.8L1516.6,507.2M1519.4,506.9L1518.5,508.3M1521.3,508.0L1520.4,509.5M1523.2,509.1L1522.3,510.6M1525.1,510.2L1524.3,511.7M1527.0,511.3L1526.2,512.8M1529.0,512.4L1528.1,513.9M1530.9,513.5L1530.0,515.0M1532.8,514.6L1531.9,516.1M1534.7,515.7L1533.9,517.2M1536.6,516.8L1535.8,518.3M1538.5,517.9L1537.7,519.4M1540.5,519.0L1539.6,520.5M1542.4,520.1L1541.5,521.6M1544.3,521.2L1543.4,522.7M1546.2,522.3L1545.4,523.8M1548.1,523.4L1547.3,524.9" fill="none" stroke="#000" stroke-width="1.0"/>
<line x1="1481.5" y1="488.5" x2="1548.6" y2="527.1" stroke-width="1.3"/>
<line x1="1482.1" y1="487.4" x2="1481.5" y2="488.5" stroke-width="1"/>
<line x1="1549.2" y1="526.0" x2="1548.6" y2="527.1" stroke-width="1"/>
<line x1="1549.3" y1="524.5" x2="1579.7" y2="524.5" stroke-width="1"/>
<path d="M1552.8,495.5L1555.8,495.5L1555.8,504.5L1557.8,504.5L1557.8,507.5L1550.8,507.5L1550.8,504.5L1552.8,504.5Z" fill="#000" stroke="#000" stroke-width="1"/>
<line x1="1555.4" y1="507.5" x2="1587.9" y2="507.5" stroke-width="1"/>
<polygon points="1366.8,503.5 1425.7,534.0 1426.9,531.8 1368.0,501.3" fill="none" stroke-width="1"/>
<polygon points="1365.8,513.8 1427.8,545.3 1429.0,542.9 1367.0,511.4" fill="none" stroke-width="1.1"/>
<path d="M1368.3,514.9L1369.3,512.8M1370.6,516.1L1371.7,514.0M1373.0,517.3L1374.1,515.2M1375.4,518.5L1376.5,516.4M1377.8,519.7L1378.9,517.6M1380.2,520.9L1381.2,518.8M1382.6,522.1L1383.6,520.0M1384.9,523.3L1386.0,521.2M1387.3,524.5L1388.4,522.5M1389.7,525.8L1390.8,523.7M1392.1,527.0L1393.2,524.9M1394.5,528.2L1395.5,526.1M1396.9,529.4L1397.9,527.3M1399.3,530.6L1400.3,528.5M1401.6,531.8L1402.7,529.7M1404.0,533.0L1405.1,530.9M1406.4,534.2L1407.5,532.2M1408.8,535.5L1409.9,533.4M1411.2,536.7L1412.2,534.6M1413.6,537.9L1414.6,535.8M1415.9,539.1L1417.0,537.0M1418.3,540.3L1419.4,538.2M1420.7,541.5L1421.8,539.4M1423.1,542.7L1424.2,540.6M1425.5,543.9L1426.5,541.8" fill="none" stroke="#000" stroke-width="0.75"/>
<line x1="1395.5" y1="489.2" x2="1395.5" y2="515.6" stroke-width="1"/>
<line x1="1394.5" y1="527.8" x2="1394.5" y2="552.2" stroke-width="1"/>
<polygon points="1142.6,644.1 1362.9,517.8 1361.7,515.6 1141.4,641.9" fill="none" stroke-width="1"/>
<polygon points="1467.3,561.4 1525.2,597.0 1526.6,594.8 1468.7,559.2" fill="none" stroke-width="1"/>
<polygon points="1465.3,570.6 1526.2,608.1 1527.6,605.9 1466.7,568.4" fill="none" stroke-width="1.1"/>
<path d="M1467.6,571.9L1468.9,569.9M1469.9,573.3L1471.1,571.3M1472.2,574.7L1473.4,572.7M1474.4,576.1L1475.6,574.1M1476.7,577.4L1477.9,575.4M1478.9,578.8L1480.1,576.8M1481.2,580.2L1482.4,578.2M1483.4,581.6L1484.7,579.6M1485.7,583.0L1486.9,581.0M1487.9,584.4L1489.2,582.4M1490.2,585.8L1491.4,583.8M1492.5,587.2L1493.7,585.2M1494.7,588.6L1495.9,586.6M1497.0,589.9L1498.2,587.9M1499.2,591.3L1500.4,589.3M1501.5,592.7L1502.7,590.7M1503.7,594.1L1505.0,592.1M1506.0,595.5L1507.2,593.5M1508.2,596.9L1509.5,594.9M1510.5,598.3L1511.7,596.3M1512.8,599.7L1514.0,597.7M1515.0,601.1L1516.2,599.1M1517.3,602.4L1518.5,600.4M1519.5,603.8L1520.7,601.8M1521.8,605.2L1523.0,603.2M1524.0,606.6L1525.3,604.6" fill="none" stroke="#000" stroke-width="0.75"/>
<line x1="1496.5" y1="551.2" x2="1496.5" y2="574.6" stroke-width="1"/>
<line x1="1526.9" y1="607.5" x2="1554.3" y2="607.5" stroke-width="1"/>
<polygon points="1297.0,738.6 1516.3,613.3 1515.1,611.1 1295.8,736.4" fill="none" stroke-width="1"/>
<polygon points="1116.0,641.4 1175.3,670.9 1176.5,668.7 1117.2,639.2" fill="none" stroke-width="1"/>
<polygon points="1121.0,654.3 1183.0,685.8 1184.2,683.4 1122.2,651.9" fill="none" stroke-width="1.1"/>
<path d="M1123.5,655.4L1124.5,653.3M1125.8,656.6L1126.9,654.5M1128.2,657.8L1129.3,655.7M1130.6,659.0L1131.7,656.9M1133.0,660.2L1134.1,658.1M1135.4,661.4L1136.4,659.3M1137.8,662.6L1138.8,660.5M1140.1,663.8L1141.2,661.7M1142.5,665.0L1143.6,663.0M1144.9,666.3L1146.0,664.2M1147.3,667.5L1148.4,665.4M1149.7,668.7L1150.7,666.6M1152.1,669.9L1153.1,667.8M1154.5,671.1L1155.5,669.0M1156.8,672.3L1157.9,670.2M1159.2,673.5L1160.3,671.4M1161.6,674.7L1162.7,672.7M1164.0,676.0L1165.1,673.9M1166.4,677.2L1167.4,675.1M1168.8,678.4L1169.8,676.3M1171.1,679.6L1172.2,677.5M1173.5,680.8L1174.6,678.7M1175.9,682.0L1177.0,679.9M1178.3,683.2L1179.4,681.1M1180.7,684.4L1181.7,682.3" fill="none" stroke="#000" stroke-width="0.75"/>
<line x1="1129.5" y1="614.5" x2="1129.5" y2="644.0" stroke-width="1"/>
<line x1="1152.5" y1="669.4" x2="1152.5" y2="689.7" stroke-width="1"/>
<polygon points="923.6,770.8 1116.2,660.3 1115.0,658.1 922.4,768.6" fill="none" stroke-width="1"/>
<polygon points="1215.8,697.3 1274.3,733.5 1275.7,731.3 1217.2,695.1" fill="none" stroke-width="1"/>
<polygon points="1218.5,710.1 1279.4,748.7 1280.8,746.5 1219.9,707.9" fill="none" stroke-width="1.1"/>
<path d="M1220.8,711.4L1222.1,709.4M1223.1,712.8L1224.3,710.9M1225.3,714.3L1226.6,712.3M1227.6,715.7L1228.8,713.7M1229.9,717.1L1231.1,715.2M1232.1,718.6L1233.4,716.6M1234.4,720.0L1235.6,718.0M1236.6,721.4L1237.9,719.4M1238.9,722.9L1240.1,720.9M1241.1,724.3L1242.4,722.3M1243.4,725.7L1244.6,723.7M1245.6,727.1L1246.9,725.2M1247.9,728.6L1249.1,726.6M1250.2,730.0L1251.4,728.0M1252.4,731.4L1253.7,729.5M1254.7,732.9L1255.9,730.9M1256.9,734.3L1258.2,732.3M1259.2,735.7L1260.4,733.7M1261.4,737.2L1262.7,735.2M1263.7,738.6L1264.9,736.6M1265.9,740.0L1267.2,738.0M1268.2,741.4L1269.4,739.5M1270.5,742.9L1271.7,740.9M1272.7,744.3L1274.0,742.3M1275.0,745.7L1276.2,743.8M1277.2,747.2L1278.5,745.2" fill="none" stroke="#000" stroke-width="0.75"/>
<line x1="1246.5" y1="683.6" x2="1246.5" y2="713.0" stroke-width="1"/>
<line x1="1280.1" y1="746.5" x2="1319.7" y2="746.5" stroke-width="1"/>
<polygon points="1079.0,863.6 1272.6,752.8 1271.4,750.6 1077.8,861.4" fill="none" stroke-width="1"/>
<polygon points="900.0,770.2 959.0,800.2 960.2,798.0 901.2,768.0" fill="none" stroke-width="1"/>
<polygon points="898.0,782.5 960.6,814.0 961.8,811.6 899.2,780.1" fill="none" stroke-width="1.1"/>
<path d="M900.5,783.6L901.5,781.5M902.9,784.8L903.9,782.7M905.3,786.0L906.3,783.9M907.7,787.2L908.8,785.1M910.1,788.4L911.2,786.3M912.5,789.6L913.6,787.5M914.9,790.8L916.0,788.7M917.3,792.0L918.4,789.9M919.7,793.2L920.8,791.2M922.2,794.5L923.2,792.4M924.6,795.7L925.6,793.6M927.0,796.9L928.0,794.8M929.4,798.1L930.4,796.0M931.8,799.3L932.8,797.2M934.2,800.5L935.2,798.4M936.6,801.7L937.6,799.6M939.0,802.9L940.1,800.9M941.4,804.2L942.5,802.1M943.8,805.4L944.9,803.3M946.2,806.6L947.3,804.5M948.6,807.8L949.7,805.7M951.0,809.0L952.1,806.9M953.5,810.2L954.5,808.1M955.9,811.4L956.9,809.3M958.3,812.6L959.3,810.5" fill="none" stroke="#000" stroke-width="0.75"/>
<line x1="913.5" y1="744.3" x2="913.5" y2="773.1" stroke-width="1"/>
<line x1="925.5" y1="796.5" x2="925.5" y2="816.8" stroke-width="1"/>
<polygon points="730.6,870.0 888.0,779.3 886.8,777.1 729.4,867.8" fill="none" stroke-width="1"/>
<polygon points="733.1,880.2 889.0,790.5 887.8,788.3 731.9,878.0" fill="none" stroke-width="1.1"/>
<path d="M735.3,878.8L734.2,876.8M737.6,877.5L736.4,875.5M739.9,876.2L738.7,874.2M742.1,874.9L741.0,872.9M744.4,873.6L743.2,871.6M746.6,872.3L745.5,870.3M748.9,871.0L747.7,869.0M751.2,869.7L750.0,867.7M753.4,868.4L752.3,866.4M755.7,867.1L754.5,865.1M757.9,865.8L756.8,863.8M760.2,864.5L759.0,862.5M762.5,863.2L761.3,861.2M764.7,861.9L763.5,859.9M767.0,860.6L765.8,858.6M769.2,859.3L768.1,857.3M771.5,858.0L770.3,856.0M773.8,856.7L772.6,854.7M776.0,855.4L774.8,853.4M778.3,854.1L777.1,852.1M780.5,852.8L779.4,850.8M782.8,851.5L781.6,849.5M785.1,850.2L783.9,848.2M787.3,848.9L786.1,846.9M789.6,847.6L788.4,845.6M791.8,846.3L790.7,844.3M794.1,845.0L792.9,843.0M796.3,843.7L795.2,841.7M798.6,842.4L797.4,840.4M800.9,841.1L799.7,839.1M803.1,839.8L802.0,837.8M805.4,838.5L804.2,836.5M807.6,837.2L806.5,835.2M809.9,835.9L808.7,833.9M812.2,834.6L811.0,832.6M814.4,833.3L813.3,831.3M816.7,832.0L815.5,830.0M818.9,830.7L817.8,828.7M821.2,829.4L820.0,827.4M823.5,828.1L822.3,826.1M825.7,826.8L824.6,824.8M828.0,825.5L826.8,823.5M830.2,824.2L829.1,822.2M832.5,822.9L831.3,820.9M834.8,821.6L833.6,819.6M837.0,820.3L835.8,818.3M839.3,819.0L838.1,817.0M841.5,817.7L840.4,815.7M843.8,816.4L842.6,814.4M846.1,815.1L844.9,813.1M848.3,813.8L847.1,811.8M850.6,812.5L849.4,810.5M852.8,811.2L851.7,809.2M855.1,809.9L853.9,807.9M857.4,808.6L856.2,806.6M859.6,807.3L858.4,805.3M861.9,806.0L860.7,804.0M864.1,804.7L863.0,802.7M866.4,803.4L865.2,801.4M868.6,802.1L867.5,800.1M870.9,800.8L869.7,798.8M873.2,799.5L872.0,797.5M875.4,798.2L874.3,796.2M877.7,796.9L876.5,794.9M879.9,795.6L878.8,793.6M882.2,794.3L881.0,792.3M884.5,793.0L883.3,791.0M886.7,791.7L885.6,789.7" fill="none" stroke="#000" stroke-width="0.75"/>
<line x1="836.5" y1="821.2" x2="836.5" y2="851.6" stroke-width="1"/>
<polygon points="1016.1,823.0 1074.7,859.6 1076.1,857.4 1017.5,820.8" fill="none" stroke-width="1"/>
<polygon points="1016.8,835.2 1078.7,873.8 1080.1,871.6 1018.2,833.0" fill="none" stroke-width="1.1"/>
<path d="M1019.1,836.5L1020.3,834.5M1021.3,837.8L1022.5,835.9M1023.5,839.2L1024.8,837.2M1025.7,840.6L1027.0,838.6M1027.9,842.0L1029.2,840.0M1030.1,843.4L1031.4,841.4M1032.4,844.7L1033.6,842.8M1034.6,846.1L1035.8,844.1M1036.8,847.5L1038.0,845.5M1039.0,848.9L1040.2,846.9M1041.2,850.3L1042.4,848.3M1043.4,851.6L1044.6,849.7M1045.6,853.0L1046.9,851.0M1047.8,854.4L1049.1,852.4M1050.0,855.8L1051.3,853.8M1052.3,857.1L1053.5,855.2M1054.5,858.5L1055.7,856.5M1056.7,859.9L1057.9,857.9M1058.9,861.3L1060.1,859.3M1061.1,862.7L1062.3,860.7M1063.3,864.0L1064.5,862.1M1065.5,865.4L1066.8,863.4M1067.7,866.8L1069.0,864.8M1069.9,868.2L1071.2,866.2M1072.1,869.6L1073.4,867.6M1074.4,870.9L1075.6,869.0M1076.6,872.3L1077.8,870.3" fill="none" stroke="#000" stroke-width="0.75"/>
<line x1="1047.5" y1="808.7" x2="1047.5" y2="838.2" stroke-width="1"/>
<line x1="1070.5" y1="868.1" x2="1070.5" y2="897.2" stroke-width="1"/>
<polygon points="896.9,957.9 1054.6,867.9 1053.4,865.7 895.7,955.7" fill="none" stroke-width="1"/>
<polygon points="900.6,968.8 1057.0,879.4 1055.8,877.2 899.4,966.6" fill="none" stroke-width="1.1"/>
<path d="M902.8,967.4L901.7,965.4M905.1,966.1L904.0,964.1M907.4,964.8L906.2,962.8M909.6,963.5L908.5,961.5M911.9,962.2L910.8,960.2M914.2,960.9L913.0,958.9M916.4,959.6L915.3,957.6M918.7,958.4L917.6,956.3M921.0,957.1L919.8,955.0M923.2,955.8L922.1,953.7M925.5,954.5L924.4,952.4M927.8,953.2L926.6,951.1M930.0,951.9L928.9,949.8M932.3,950.6L931.2,948.5M934.6,949.3L933.4,947.2M936.8,948.0L935.7,946.0M939.1,946.7L938.0,944.7M941.4,945.4L940.2,943.4M943.6,944.1L942.5,942.1M945.9,942.8L944.8,940.8M948.2,941.5L947.0,939.5M950.4,940.2L949.3,938.2M952.7,938.9L951.6,936.9M955.0,937.6L953.8,935.6M957.2,936.3L956.1,934.3M959.5,935.0L958.4,933.0M961.8,933.7L960.6,931.7M964.0,932.4L962.9,930.4M966.3,931.1L965.2,929.1M968.6,929.8L967.4,927.8M970.8,928.6L969.7,926.5M973.1,927.3L972.0,925.2M975.4,926.0L974.2,923.9M977.6,924.7L976.5,922.6M979.9,923.4L978.8,921.3M982.2,922.1L981.0,920.0M984.4,920.8L983.3,918.7M986.7,919.5L985.6,917.4M989.0,918.2L987.8,916.2M991.2,916.9L990.1,914.9M993.5,915.6L992.4,913.6M995.8,914.3L994.6,912.3M998.0,913.0L996.9,911.0M1000.3,911.7L999.2,909.7M1002.6,910.4L1001.4,908.4M1004.8,909.1L1003.7,907.1M1007.1,907.8L1006.0,905.8M1009.4,906.5L1008.2,904.5M1011.6,905.2L1010.5,903.2M1013.9,903.9L1012.8,901.9M1016.2,902.6L1015.0,900.6M1018.4,901.3L1017.3,899.3M1020.7,900.0L1019.6,898.0M1023.0,898.8L1021.8,896.7M1025.2,897.5L1024.1,895.4M1027.5,896.2L1026.4,894.1M1029.8,894.9L1028.6,892.8M1032.0,893.6L1030.9,891.5M1034.3,892.3L1033.2,890.2M1036.6,891.0L1035.4,888.9M1038.8,889.7L1037.7,887.6M1041.1,888.4L1040.0,886.4M1043.4,887.1L1042.2,885.1M1045.6,885.8L1044.5,883.8M1047.9,884.5L1046.8,882.5M1050.2,883.2L1049.0,881.2M1052.4,881.9L1051.3,879.9M1054.7,880.6L1053.6,878.6" fill="none" stroke="#000" stroke-width="0.75"/>
<line x1="999.5" y1="912.1" x2="999.5" y2="932.5" stroke-width="1"/>
<polygon points="703.0,876.1 761.9,905.6 763.1,903.4 704.2,873.9" fill="none" stroke-width="1"/>
<polygon points="710.7,889.4 772.1,920.9 773.3,918.5 711.9,887.0" fill="none" stroke-width="1.1"/>
<path d="M713.1,890.5L714.2,888.4M715.5,891.7L716.6,889.6M717.9,892.9L718.9,890.8M720.2,894.1L721.3,892.0M722.6,895.3L723.6,893.2M724.9,896.5L726.0,894.4M727.3,897.7L728.4,895.6M729.7,898.9L730.7,896.9M732.0,900.1L733.1,898.1M734.4,901.4L735.4,899.3M736.7,902.6L737.8,900.5M739.1,903.8L740.2,901.7M741.5,905.0L742.5,902.9M743.8,906.2L744.9,904.1M746.2,907.4L747.3,905.3M748.6,908.6L749.6,906.5M750.9,909.8L752.0,907.8M753.3,911.0L754.3,909.0M755.6,912.3L756.7,910.2M758.0,913.5L759.1,911.4M760.4,914.7L761.4,912.6M762.7,915.9L763.8,913.8M765.1,917.1L766.1,915.0M767.4,918.3L768.5,916.2M769.8,919.5L770.9,917.4" fill="none" stroke="#000" stroke-width="0.75"/>
<line x1="705.5" y1="844.5" x2="705.5" y2="874.6" stroke-width="1"/>
<line x1="741.5" y1="904.5" x2="741.5" y2="937.0" stroke-width="1"/>
<polygon points="615.8,944.2 704.2,894.0 703.0,891.8 614.6,942.0" fill="none" stroke-width="1"/>
<line x1="657.5" y1="890.3" x2="657.5" y2="917.7" stroke-width="1"/>
<polygon points="818.7,931.0 877.6,967.5 879.0,965.3 820.1,928.8" fill="none" stroke-width="1"/>
<polygon points="820.3,944.2 881.7,982.8 883.1,980.6 821.7,942.0" fill="none" stroke-width="1.1"/>
<path d="M822.7,945.5L823.9,943.5M824.9,946.9L826.2,945.0M827.2,948.4L828.4,946.4M829.5,949.8L830.7,947.8M831.7,951.2L833.0,949.3M834.0,952.7L835.3,950.7M836.3,954.1L837.5,952.1M838.6,955.5L839.8,953.5M840.8,957.0L842.1,955.0M843.1,958.4L844.4,956.4M845.4,959.8L846.6,957.8M847.7,961.2L848.9,959.3M849.9,962.7L851.2,960.7M852.2,964.1L853.5,962.1M854.5,965.5L855.7,963.6M856.8,967.0L858.0,965.0M859.0,968.4L860.3,966.4M861.3,969.8L862.6,967.8M863.6,971.3L864.8,969.3M865.9,972.7L867.1,970.7M868.1,974.1L869.4,972.1M870.4,975.5L871.7,973.6M872.7,977.0L873.9,975.0M875.0,978.4L876.2,976.4M877.2,979.8L878.5,977.9M879.5,981.3L880.7,979.3" fill="none" stroke="#000" stroke-width="0.75"/>
<line x1="850.5" y1="917.7" x2="850.5" y2="946.1" stroke-width="1"/>
<line x1="882.4" y1="980.5" x2="917.0" y2="980.5" stroke-width="1"/>
<polygon points="780.6,1040.7 870.1,989.9 868.9,987.7 779.4,1038.5" fill="none" stroke-width="1"/>
<line x1="824.5" y1="1015.2" x2="824.5" y2="1044.6" stroke-width="1"/>
<polygon points="637.7,966.9 709.9,1008.6 708.9,1010.3 636.7,968.6" fill="none" stroke-width="1.2"/>
<path d="M639.6,968.0L638.6,969.8M641.6,969.1L640.6,970.9M643.5,970.3L642.5,972.0M645.5,971.4L644.5,973.1M647.4,972.5L646.4,974.3M649.4,973.6L648.4,975.4M651.3,974.8L650.3,976.5M653.3,975.9L652.3,977.6M655.2,977.0L654.2,978.8M657.2,978.2L656.2,979.9M659.1,979.3L658.1,981.0M661.1,980.4L660.1,982.2M663.0,981.5L662.0,983.3M665.0,982.7L664.0,984.4M666.9,983.8L665.9,985.5M668.9,984.9L667.9,986.7M670.8,986.0L669.8,987.8M672.8,987.2L671.8,988.9M674.8,988.3L673.7,990.0M676.7,989.4L675.7,991.2M678.7,990.6L677.6,992.3M680.6,991.7L679.6,993.4M682.6,992.8L681.5,994.5M684.5,993.9L683.5,995.7M686.5,995.1L685.5,996.8M688.4,996.2L687.4,997.9M690.4,997.3L689.4,999.1M692.3,998.4L691.3,1000.2M694.3,999.6L693.3,1001.3M696.2,1000.7L695.2,1002.4M698.2,1001.8L697.2,1003.6M700.1,1002.9L699.1,1004.7M702.1,1004.1L701.1,1005.8M704.0,1005.2L703.0,1006.9M706.0,1006.3L705.0,1008.1M707.9,1007.5L706.9,1009.2" fill="none" stroke="#000" stroke-width="1.0"/>
<line x1="635.9" y1="969.9" x2="708.1" y2="1011.6" stroke-width="1.3"/>
<line x1="636.7" y1="968.6" x2="635.9" y2="969.9" stroke-width="1"/>
<line x1="708.9" y1="1010.3" x2="708.1" y2="1011.6" stroke-width="1"/>
<line x1="600.3" y1="970.5" x2="636.8" y2="970.5" stroke-width="1"/>
<line x1="639.5" y1="970.5" x2="639.5" y2="985.7" stroke-width="1"/>
<path d="M638.4,984L641.4,984L641.4,993L643.4,993L643.4,996L636.4,996L636.4,993L638.4,993Z" fill="#000" stroke="#000" stroke-width="1"/>
<line x1="606.3" y1="995.5" x2="637.8" y2="995.5" stroke-width="1"/>
<polygon points="637.3,1005.0 699.9,1040.6 700.9,1038.6 638.3,1003.0" fill="none" stroke-width="1.1"/>
<path d="M639.6,1006.2L640.6,1004.5M641.9,1007.5L642.9,1005.8M644.3,1008.8L645.2,1007.1M646.6,1010.1L647.6,1008.4M648.9,1011.5L649.9,1009.7M651.2,1012.8L652.2,1011.1M653.5,1014.1L654.5,1012.4M655.9,1015.4L656.8,1013.7M658.2,1016.7L659.2,1015.0M660.5,1018.0L661.5,1016.3M662.8,1019.4L663.8,1017.6M665.1,1020.7L666.1,1019.0M667.5,1022.0L668.4,1020.3M669.8,1023.3L670.7,1021.6M672.1,1024.6L673.1,1022.9M674.4,1026.0L675.4,1024.2M676.7,1027.3L677.7,1025.6M679.0,1028.6L680.0,1026.9M681.4,1029.9L682.3,1028.2M683.7,1031.2L684.7,1029.5M686.0,1032.5L687.0,1030.8M688.3,1033.9L689.3,1032.1M690.6,1035.2L691.6,1033.5M693.0,1036.5L693.9,1034.8M695.3,1037.8L696.3,1036.1M697.6,1039.1L698.6,1037.4" fill="none" stroke="#000" stroke-width="0.75"/>
<line x1="634.8" y1="1020.5" x2="666.3" y2="1020.5" stroke-width="1"/>
<path d="M704,1048L708,1044L712,1043L715,1046L712,1050L707,1051Z" fill="#000" stroke="#000" stroke-width="1.3"/>
<circle cx="709" cy="1047.5" r="0.9" fill="#fff" stroke="none"/><circle cx="712" cy="1046" r="0.8" fill="#fff" stroke="none"/>
<line x1="672.4" y1="1048.5" x2="705.9" y2="1048.5" stroke-width="1"/>
<rect x="60.5" y="1048.5" width="203" height="101" stroke-width="1.1"/>
<line x1="162.5" y1="1048.5" x2="162.5" y2="1149.5" stroke-width="1.1"/>
<line x1="60.5" y1="1078.5" x2="263.5" y2="1078.5" stroke-width="1.1"/>
<path d="M107.0,1094.0 L111.5,1090.2 L118.9,1090.2 L122.9,1094.0M107.0,1094.0 L103.3,1098.8 L107.5,1105.8 L122.9,1105.8 L126.8,1098.8 L122.9,1094.0M107.0,1094.0 L111.0,1098.3 L119.4,1098.3 L122.9,1094.0M111.0,1098.3 L111.5,1103.8 L118.9,1103.8 L119.4,1098.3M110.5,1105.8 L110.5,1127.6 L112.4,1129.5 L112.4,1132.8 L117.9,1132.8 L117.9,1129.5 L119.4,1127.6 L119.4,1105.8" fill="none" stroke="#000" stroke-width="1.3"/>
<path d="M111.1,1108.5 L118.8,1109.8M111.1,1111.8 L118.8,1113.1M111.1,1115.1 L118.8,1116.4M111.1,1118.4 L118.8,1119.7M111.1,1121.7 L118.8,1123.0M111.1,1125.0 L118.8,1126.3" fill="none" stroke="#000" stroke-width="1.1"/>
<path d="M208.6,1094.0 L213.1,1090.2 L220.4,1090.2 L224.4,1094.0M208.6,1094.0 L204.9,1098.8 L209.1,1105.8 L224.4,1105.8 L228.4,1098.8 L224.4,1094.0M208.6,1094.0 L212.6,1098.3 L220.9,1098.3 L224.4,1094.0M212.6,1098.3 L213.1,1103.8 L220.4,1103.8 L220.9,1098.3M212.1,1105.8 L212.1,1127.6 L213.9,1129.5 L213.9,1132.8 L219.4,1132.8 L219.4,1129.5 L220.9,1127.6 L220.9,1105.8" fill="none" stroke="#000" stroke-width="1.3"/>
<path d="M212.7,1108.5 L220.4,1109.8M212.7,1111.8 L220.4,1113.1M212.7,1115.1 L220.4,1116.4M212.7,1118.4 L220.4,1119.7M212.7,1121.7 L220.4,1123.0M212.7,1125.0 L220.4,1126.3" fill="none" stroke="#000" stroke-width="1.1"/>
</svg></body></html>
